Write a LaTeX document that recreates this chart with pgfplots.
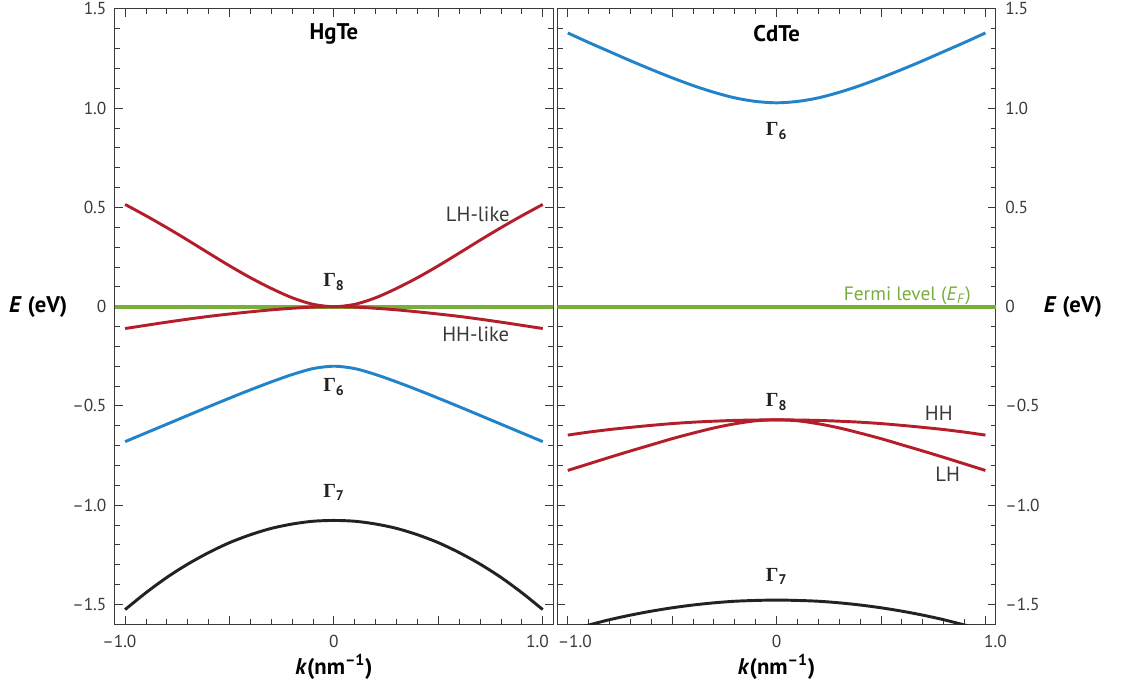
\documentclass[border=0pt]{standalone}
\usepackage{fontspec}
\setmainfont{PT Sans}
\newfontfamily\gfont{Liberation Serif}
\usepackage{pgfplots}
\pgfplotsset{compat=1.18}
\definecolor{cred}{HTML}{B41E2A}
\definecolor{cblue}{HTML}{2183C9}
\definecolor{cgreen}{HTML}{78AE3A}
\definecolor{cblack}{HTML}{222222}
\definecolor{cframe}{HTML}{3A3A3A}
\newcommand{\G}[1]{{\gfont\bfseries Γ}\textsubscript{\bfseries #1}}
\tikzset{
  ann/.style={font=\fontsize{15.5}{17}\selectfont, text=cframe},
  gam/.style={font=\fontsize{15}{17}\selectfont, text=cblack, inner sep=0pt},
}
\pgfplotsset{
  bandaxis/.style={
    scale only axis, width=328.9pt, height=461.5pt,
    xmin=-1.05, xmax=1.05, ymin=-1.6, ymax=1.5,
    xtick={-1,-0.5,0,0.5,1},
    ytick={-1.5,-1,-0.5,0,0.5,1,1.5},
    yticklabels={–1.5,–1.0,–0.5,0,0.5,1.0,1.5},
    minor x tick num=4, minor y tick num=4,
    tick align=inside, major tick length=6pt, minor tick length=4pt,
    axis line style={cframe, line width=0.8pt},
    every tick/.style={cframe, line width=0.7pt},
    xticklabel pos=lower,
    ticklabel style={font=\fontsize{13}{15}\selectfont, text=cframe},
    xticklabel style={anchor=north, inner sep=0pt, yshift=-8pt},
    title style={at={(0.5,1)}, anchor=center, yshift=-24.5pt, font=\fontsize{17}{20}\selectfont\bfseries},
    every axis x label/.style={at={(rel axis cs:0.5,0)}, anchor=center, yshift=-32pt, font=\fontsize{17}{20}\selectfont\bfseries},
    xlabel={\textit{k}(nm\textsuperscript{–1})},
    ylabel={\textit{E} (eV)},
    every axis plot/.append style={line width=2.2pt, no markers},
  }
}
\begin{document}
\begin{tikzpicture}
\path[use as bounding box] (0pt,0pt) rectangle (841.5pt,514.5pt);
% ---------------- HgTe ----------------
\begin{axis}[bandaxis, at={(86pt,46.3pt)}, anchor=south west, title={HgTe},
  xticklabels={\llap{–}1.0,,0,,1.0\hspace*{8pt}},
  yticklabel style={anchor=east, inner sep=0pt, xshift=-6pt},
  every axis y label/.style={at={(rel axis cs:0,0.516)}, anchor=center, xshift=-57.3pt, font=\fontsize{17}{20}\selectfont\bfseries},
]
\addplot[cgreen, line width=3pt] coordinates {(-1.05,0) (1.05,0)};
% HH-like
\addplot[cred, smooth] coordinates {
(-1.0,-0.110) (-0.9,-0.094) (-0.8,-0.078) (-0.7,-0.063) (-0.6,-0.049) (-0.5,-0.037) (-0.4,-0.026) (-0.3,-0.016) (-0.2,-0.008) (-0.1,-0.002) (0,0)
(0.1,-0.002) (0.2,-0.008) (0.3,-0.016) (0.4,-0.026) (0.5,-0.037) (0.6,-0.049) (0.7,-0.063) (0.8,-0.078) (0.9,-0.094) (1.0,-0.110)};
% LH-like
\addplot[cred, smooth] coordinates {
(-1.0,0.515) (-0.9,0.458) (-0.8,0.398) (-0.7,0.335) (-0.6,0.270) (-0.5,0.206) (-0.4,0.146) (-0.3,0.092) (-0.2,0.045) (-0.1,0.012) (0,0)
(0.1,0.012) (0.2,0.045) (0.3,0.092) (0.4,0.146) (0.5,0.206) (0.6,0.270) (0.7,0.335) (0.8,0.398) (0.9,0.458) (1.0,0.515)};
% Gamma6
\addplot[cblue, smooth] coordinates {
(-1.0,-0.680) (-0.9,-0.636) (-0.8,-0.592) (-0.7,-0.548) (-0.6,-0.504) (-0.5,-0.461) (-0.4,-0.419) (-0.3,-0.379) (-0.2,-0.342) (-0.1,-0.312) (0,-0.300)
(0.1,-0.312) (0.2,-0.342) (0.3,-0.379) (0.4,-0.419) (0.5,-0.461) (0.6,-0.504) (0.7,-0.548) (0.8,-0.592) (0.9,-0.636) (1.0,-0.680)};
% Gamma7
\addplot[cblack, smooth] coordinates {
(-1.0,-1.526) (-0.9,-1.441) (-0.8,-1.364) (-0.7,-1.297) (-0.6,-1.239) (-0.5,-1.189) (-0.4,-1.149) (-0.3,-1.117) (-0.2,-1.095) (-0.1,-1.081) (0,-1.077)
(0.1,-1.081) (0.2,-1.095) (0.3,-1.117) (0.4,-1.149) (0.5,-1.189) (0.6,-1.239) (0.7,-1.297) (0.8,-1.364) (0.9,-1.441) (1.0,-1.526)};
\node[gam] at (axis cs:0,0.125) {\G{8}};
\node[gam] at (axis cs:0,-0.405) {\G{6}};
\node[gam] at (axis cs:0,-0.935) {\G{7}};
\node[ann] at (axis cs:0.689,0.467) {LH-like};
\node[ann] at (axis cs:0.679,-0.137) {HH-like};
\end{axis}
% ---------------- CdTe ----------------
\begin{axis}[bandaxis, at={(418pt,46.3pt)}, anchor=south west, title={CdTe},
  xticklabels={\hspace*{10.5pt}–1.0,,0,,\hspace*{15pt}1.0},
  yticklabel pos=right,
  yticklabel style={anchor=west, inner sep=0pt, xshift=7pt},
  every axis y label/.style={at={(rel axis cs:1,0.516)}, anchor=center, xshift=57.8pt, font=\fontsize{17}{20}\selectfont\bfseries},
]
\addplot[cgreen, line width=3pt] coordinates {(-1.05,0) (1.05,0)};
% Gamma6
\addplot[cblue, smooth] coordinates {
(-1.0,1.379) (-0.9,1.331) (-0.8,1.285) (-0.7,1.239) (-0.6,1.195) (-0.5,1.153) (-0.4,1.114) (-0.3,1.080) (-0.2,1.052) (-0.1,1.034) (0,1.027)
(0.1,1.034) (0.2,1.052) (0.3,1.080) (0.4,1.114) (0.5,1.153) (0.6,1.195) (0.7,1.239) (0.8,1.285) (0.9,1.331) (1.0,1.379)};
% HH
\addplot[cred, smooth] coordinates {
(-1.0,-0.647) (-0.9,-0.632) (-0.8,-0.619) (-0.7,-0.608) (-0.6,-0.598) (-0.5,-0.589) (-0.4,-0.582) (-0.3,-0.577) (-0.2,-0.573) (-0.1,-0.571) (0,-0.570)
(0.1,-0.571) (0.2,-0.573) (0.3,-0.577) (0.4,-0.582) (0.5,-0.589) (0.6,-0.598) (0.7,-0.608) (0.8,-0.619) (0.9,-0.632) (1.0,-0.647)};
% LH
\addplot[cred, smooth] coordinates {
(-1.0,-0.825) (-0.9,-0.792) (-0.8,-0.759) (-0.7,-0.727) (-0.6,-0.696) (-0.5,-0.665) (-0.4,-0.637) (-0.3,-0.611) (-0.2,-0.590) (-0.1,-0.575) (0,-0.570)
(0.1,-0.575) (0.2,-0.590) (0.3,-0.611) (0.4,-0.637) (0.5,-0.665) (0.6,-0.696) (0.7,-0.727) (0.8,-0.759) (0.9,-0.792) (1.0,-0.825)};
% Gamma7
\addplot[cblack, smooth] coordinates {
(-1.0,-1.633) (-0.9,-1.604) (-0.8,-1.577) (-0.7,-1.554) (-0.6,-1.534) (-0.5,-1.517) (-0.4,-1.503) (-0.3,-1.492) (-0.2,-1.484) (-0.1,-1.480) (0,-1.478)
(0.1,-1.480) (0.2,-1.484) (0.3,-1.492) (0.4,-1.503) (0.5,-1.517) (0.6,-1.534) (0.7,-1.554) (0.8,-1.577) (0.9,-1.604) (1.0,-1.633)};
\node[gam] at (axis cs:0,0.885) {\G{6}};
\node[gam] at (axis cs:0,-0.48) {\G{8}};
\node[gam] at (axis cs:0,-1.36) {\G{7}};
\node[ann] at (axis cs:0.777,-0.535) {HH};
\node[ann] at (axis cs:0.819,-0.842) {LH};
\node[ann, text=cgreen, anchor=base east, font=\fontsize{14.5}{16}\selectfont] at (axis cs:0.952,0.033) {Fermi level (\textit{E}\textsubscript{\textit{F}})};
\end{axis}
\end{tikzpicture}
\end{document}
